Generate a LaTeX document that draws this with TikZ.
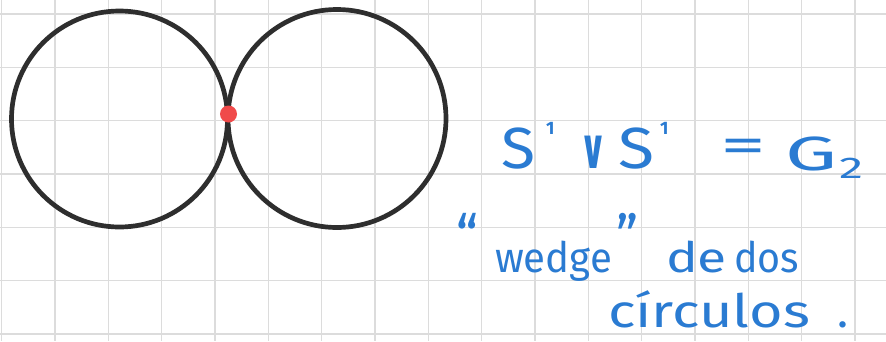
\documentclass[tikz,border=0pt]{standalone}
\usepackage{fontspec}
\setmainfont{Fira Sans}
\newfontfamily\symfont{DejaVu Sans}
\usepackage{graphicx}
\definecolor{gridgray}{HTML}{DCDCDC}
\definecolor{loopink}{HTML}{2E2E2E}
\definecolor{basered}{HTML}{F04A4A}
\definecolor{penblue}{HTML}{2A7BD2}
\newcommand{\hwbox}[3]{\resizebox{#1}{\height}{\fontsize{#2pt}{#2pt}\selectfont #3}}
\newcommand{\hwnat}[2]{{\fontsize{#1pt}{#1pt}\selectfont #2}}
\begin{document}
\begin{tikzpicture}[x=1pt,y=-1pt,
  gridline/.style={draw=gridgray,line width=1.1pt},
  loopline/.style={draw=loopink,line width=4.7pt},
  basepoint/.style={fill=basered},
  hand/.style={inner sep=0pt,outer sep=0pt,text=penblue}]
\useasboundingbox (0,0) rectangle (886,341);
\fill[white] (0,0) rectangle (886,341);
\foreach \k in {0,...,16} \draw[gridline] ({1.7+53.33*\k},0) -- ({1.7+53.33*\k},341);
\foreach \k in {0,...,6} \draw[gridline] (0,{14+53.33*\k}) -- (886,{14+53.33*\k});
\draw[loopline] (119.5,119) circle[radius=108];
\draw[loopline] (337,118.5) circle[radius=109];
\fill[basepoint] (228.5,114) circle[radius=8.5];
% first line
\node[hand,anchor=base west] (sa) at (501,168) {\hwbox{34pt}{58}{S}};
\node[hand,anchor=base west] (ea) at (546,134) {\hwnat{18}{\bfseries 1}};
\node[hand,anchor=base west] (vee) at (579,168) {\hwbox{28pt}{56}{\symfont\bfseries ∨}};
\node[hand,anchor=base west] (sb) at (618,168) {\hwbox{36pt}{58}{S}};
\node[hand,anchor=base west] (eb) at (660,134) {\hwnat{18}{\bfseries 1}};
\node[hand,anchor=center] (eq) at (743.5,151) {\hwbox{46pt}{50}{=}};
\node[hand,anchor=base west] (g) at (785,170) {\hwbox{52pt}{48}{G}};
\node[hand,anchor=base west] (two) at (839,178) {\hwbox{24pt}{30}{2}};
% second line
\node[hand,anchor=north west] (qo) at (456,213) {\hwbox{22pt}{60}{“}};
\node[hand,anchor=base west] (wedge) at (495,272) {\hwbox{117pt}{42}{wedge}};
\node[hand,anchor=north west] (qc) at (616,213) {\hwbox{22pt}{60}{”}};
\node[hand,anchor=base west] (de) at (666,272) {\hwbox{61pt}{42}{de}};
\node[hand,anchor=base west] (dos) at (734,272) {\hwbox{65pt}{42}{dos}};
% third line
\node[hand,anchor=base west] (circ) at (608,327) {\hwbox{202pt}{46}{círculos}};
\node[hand,anchor=base west] (dot) at (837,327) {\hwnat{46}{.}};
\end{tikzpicture}
\end{document}
